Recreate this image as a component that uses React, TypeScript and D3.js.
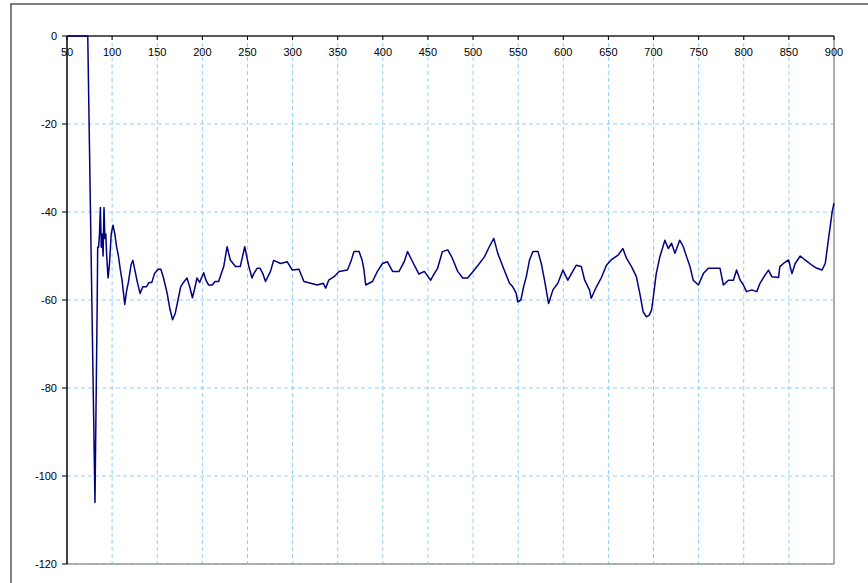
import React from 'react';
import * as d3 from 'd3';

// signal trace, [x, level]
const signal: [number, number][] = [
  [50, 0], [73, 0], [81, -106], [83.5, -60], [84, -48], [85, -48], [86, -45], [87, -39],
  [88, -48], [89, -45], [90, -50], [91, -39], [92, -46], [93, -45], [94, -50], [95.5, -55],
  [97, -52], [99, -45], [101, -43], [103, -45], [105, -48], [107, -50], [109, -53], [111, -55.5],
  [114, -61], [116, -58], [118, -56], [121, -52], [123, -51], [125, -53], [128, -56], [131, -58.5],
  [134, -57], [138, -57], [141, -56], [144, -56], [147, -54], [151, -53], [154, -53], [157, -55],
  [161, -58.5], [164, -62], [167, -64.5], [170, -63], [173, -60], [176, -57], [179, -56], [183, -55],
  [186, -57], [189, -59.5], [192, -57], [194, -55], [197, -56], [199, -55], [201.5, -53.8], [204, -55.5],
  [207, -56.6], [211, -56.6], [214, -55.8], [218, -55.8], [221, -54], [223.7, -52.4], [227.4, -47.9],
  [231, -50.9], [236.7, -52.4], [242, -52.4], [247, -47.9], [251.5, -52.4], [255, -55], [257, -54],
  [260.7, -52.8], [264, -52.8], [267, -54], [270, -55.8], [275.5, -53.5], [279, -51], [286.7, -51.7],
  [294, -51.3], [299.6, -53.2], [307, -53], [312.6, -55.8], [320, -56.2], [327.4, -56.6], [334, -56.2],
  [336.7, -57.3], [340, -55.5], [346, -54.7], [351.5, -53.5], [360.8, -53.2], [365, -51], [368, -49],
  [373.7, -49], [377, -50.9], [379, -53], [381, -56.6], [388.5, -55.8], [394, -53.5], [399.6, -51.7],
  [405, -51.3], [410.8, -53.5], [418, -53.5], [423.7, -51.3], [427.4, -49], [433, -51.3], [440, -54.1],
  [446, -53.5], [453, -55.5], [457, -54], [460.7, -52.8], [466, -49], [472, -48.6], [477, -50.5],
  [483, -53.5], [488.5, -55], [494, -55], [500, -53.5], [507, -51.7], [512.6, -50.2], [518, -47.9],
  [523, -46], [527.4, -49.4], [533, -52.4], [540.4, -56.2], [544, -57], [547.8, -58.5], [549.6, -60.4],
  [553, -60], [556, -57], [559, -54.7], [562.6, -50.9], [566.3, -49], [572, -49], [575.6, -51.7],
  [579.2, -55.5], [583.7, -60.8], [588.5, -57.7], [594, -56.2], [599.6, -53.2], [605, -55.5], [609, -54],
  [614.4, -52.1], [620, -52.4], [623.7, -55.5], [629, -57.7], [631, -59.6], [636.7, -57], [642, -55],
  [647.8, -52.1], [653, -50.9], [660.7, -49.8], [666, -48.3], [670, -50.5], [675.6, -52.4], [681, -54.7],
  [684.8, -58.5], [688.5, -62.7], [692, -63.8], [695, -63.5], [697.8, -62.3], [699.6, -59.6], [703, -54],
  [707, -50.2], [712.6, -46.4], [716.3, -48.3], [720, -47.1], [723.7, -49.4], [729, -46.4], [733, -47.9],
  [736.7, -50.2], [740.4, -52.4], [744, -55.5], [749.7, -56.6], [755.2, -54], [760.7, -52.8], [768, -52.8],
  [773.7, -52.8], [777.4, -56.6], [783, -55.5], [788.5, -55.5], [792, -53.2], [796, -55.5], [799.6, -56.6],
  [803, -58.1], [809, -57.7], [814.4, -58.1], [818, -56.2], [823.7, -54.3], [827.4, -53.2], [831, -54.7],
  [838.5, -54.9], [840, -52.4], [844, -51.7], [849.7, -50.9], [853.4, -54], [857, -51.7], [862.6, -50],
  [868, -50.9], [875.6, -52.1], [881, -52.8], [886.7, -53.2], [890.3, -51.7], [894, -46], [898, -39.9],
  [900, -38],
];

const xTicks = [50, 100, 150, 200, 250, 300, 350, 400, 450, 500, 550, 600, 650, 700, 750, 800, 850, 900];
const yTicks = [0, -20, -40, -60, -80, -100, -120];

const W = 868, H = 583;
const box = { left: 67, top: 36, right: 834, bottom: 564 };
const font = '"Liberation Sans", Arial, sans-serif';
const gridColor = '#8fd0fa';

export default function App() {
  const x = d3.scaleLinear().domain([50, 900]).range([box.left, box.right]);
  const y = d3.scaleLinear().domain([0, -120]).range([box.top, box.bottom]);
  const line = d3.line<[number, number]>()
    .x(d => x(d[0]))
    .y(d => y(d[1]));

  return (
    <svg width={W} height={H} style={{ position: 'absolute', left: 0, top: 0, background: '#fff' }}>
      <rect x={11} y={4} width={W + 20} height={H + 20} fill="#fff" stroke="#555" strokeWidth={1.5} />

      {/* grid */}
      {xTicks.slice(1).map(t => (
        <line key={'gx' + t} x1={x(t)} x2={x(t)} y1={box.top} y2={box.bottom}
          stroke={gridColor} strokeDasharray="4,3" />
      ))}
      {yTicks.slice(1).map(t => (
        <line key={'gy' + t} x1={box.left} x2={box.right} y1={y(t)} y2={y(t)}
          stroke={gridColor} strokeDasharray="4,3" />
      ))}

      {/* plot frame right / bottom */}
      <line x1={box.right} x2={box.right} y1={box.top} y2={box.bottom} stroke="#999" strokeWidth={1.5} />
      <line x1={box.left} x2={box.right} y1={box.bottom} y2={box.bottom} stroke="#999" strokeWidth={1.5} />

      {/* axes */}
      <line x1={box.left} x2={box.left} y1={box.top} y2={box.bottom} stroke="#000" strokeWidth={1.5} />
      <line x1={box.left} x2={box.right} y1={y(0)} y2={y(0)} stroke="#222" strokeWidth={1.5} />
      {yTicks.map(t => (
        <g key={'yt' + t}>
          <line x1={box.left - 5} x2={box.left} y1={y(t)} y2={y(t)} stroke="#000" />
          <text x={box.left - 10} y={y(t) + 4} textAnchor="end" fontFamily={font} fontSize={11}>{t}</text>
        </g>
      ))}
      {xTicks.map(t => (
        <g key={'xt' + t}>
          <line x1={x(t)} x2={x(t)} y1={y(0)} y2={y(0) + 4} stroke="#000" />
          <text x={x(t)} y={y(0) + 20} textAnchor="middle" fontFamily={font} fontSize={11}>{t}</text>
        </g>
      ))}

      <path d={line(signal) ?? ''} fill="none" stroke="#000080" strokeWidth={1.5} strokeLinejoin="round" />
    </svg>
  );
}
